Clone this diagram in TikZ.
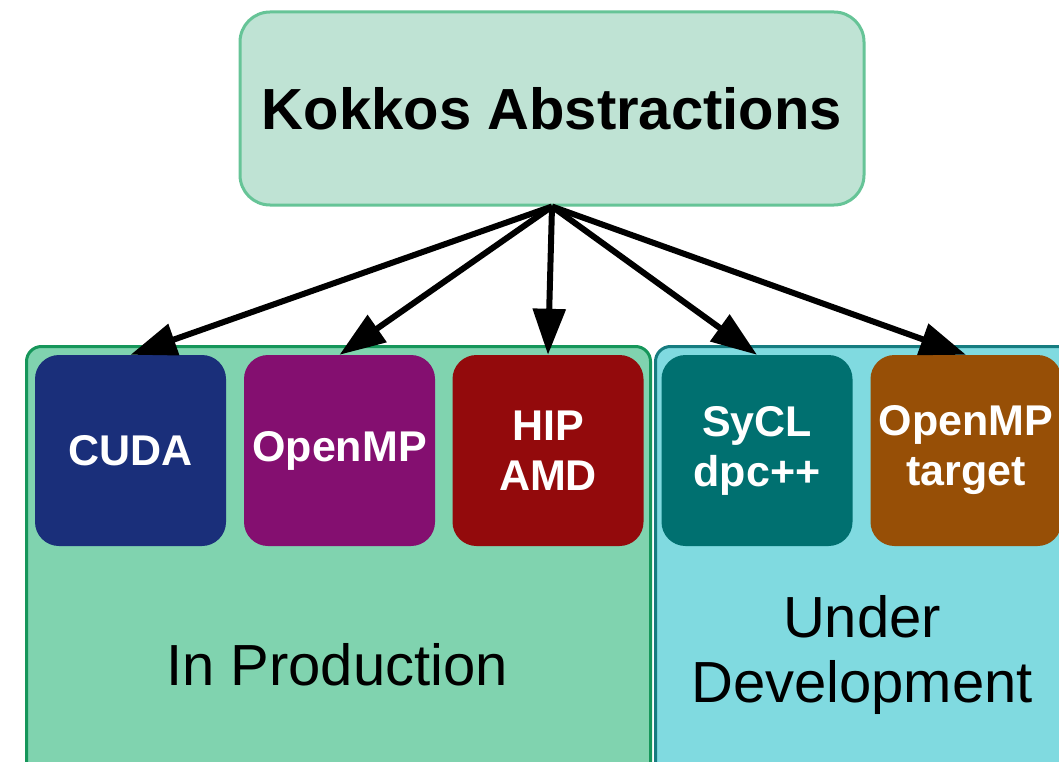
\documentclass[tikz,border=0pt]{standalone}
\usepackage{fontspec}
\setmainfont{Liberation Sans}
\usetikzlibrary{arrows.meta}

\definecolor{topfill}{HTML}{BFE3D4}
\definecolor{topline}{HTML}{66C497}
\definecolor{prodfill}{HTML}{80D3AF}
\definecolor{prodline}{HTML}{16965A}
\definecolor{devfill}{HTML}{80DAE0}
\definecolor{devline}{HTML}{167C80}
\definecolor{cudacol}{HTML}{1A2F7A}
\definecolor{ompcol}{HTML}{840F70}
\definecolor{hipcol}{HTML}{930A0C}
\definecolor{syclcol}{HTML}{007070}
\definecolor{tgtcol}{HTML}{974F06}

\tikzset{
  backend/.style={rounded corners=24pt,minimum width=191pt,minimum height=191pt,
    inner sep=0pt,align=center,text=white,
    font=\fontsize{43}{50}\selectfont\bfseries},
  group/.style={rounded corners=15pt,line width=3pt,anchor=north west,inner sep=0pt},
  biglabel/.style={align=center,font=\fontsize{58}{65}\selectfont},
  link/.style={line width=6pt,-{Triangle[length=46pt,width=32pt]}}
}

\begin{document}
\begin{tikzpicture}[x=1pt,y=-1pt]
  \useasboundingbox (0,0) rectangle (1059,762);
  \clip (0,0) rectangle (1059,762);
  \fill[white] (0,0) rectangle (1059,762);
  % groups
  \node[group,draw=prodline,fill=prodfill,minimum width=624pt,minimum height=460pt] (prod) at (25,345) {};
  \node[group,draw=devline,fill=devfill,minimum width=440pt,minimum height=460pt] (dev) at (654,345) {};
  \node[biglabel] (prodlabel) at (337,665) {In Production};
  \node[biglabel] (devlabel) at (862,655) {Under\\Development};
  % abstraction layer
  \node[draw=topline,fill=topfill,line width=3pt,rounded corners=30pt,
    minimum width=624pt,minimum height=193pt,
    font=\fontsize{58}{65}\selectfont\bfseries] (kokkos) at (552,108.5) {Kokkos Abstractions};
  % backends
  \node[backend,fill=cudacol] (cuda) at (130.5,450.5) {CUDA};
  \node[backend,fill=ompcol] (omp) at (339.5,450.5) {OpenMP};
  \node[backend,fill=hipcol] (hip) at (548,450.5) {HIP\\AMD};
  \node[backend,fill=syclcol] (sycl) at (757,450.5) {SyCL\\dpc++};
  \node[backend,fill=tgtcol] (tgt) at (966,450.5) {OpenMP\\target};
  % arrows
  \foreach \b in {cuda,omp,hip,sycl,tgt}
    \draw[link] (kokkos.south) -- (\b.north);
\end{tikzpicture}
\end{document}
